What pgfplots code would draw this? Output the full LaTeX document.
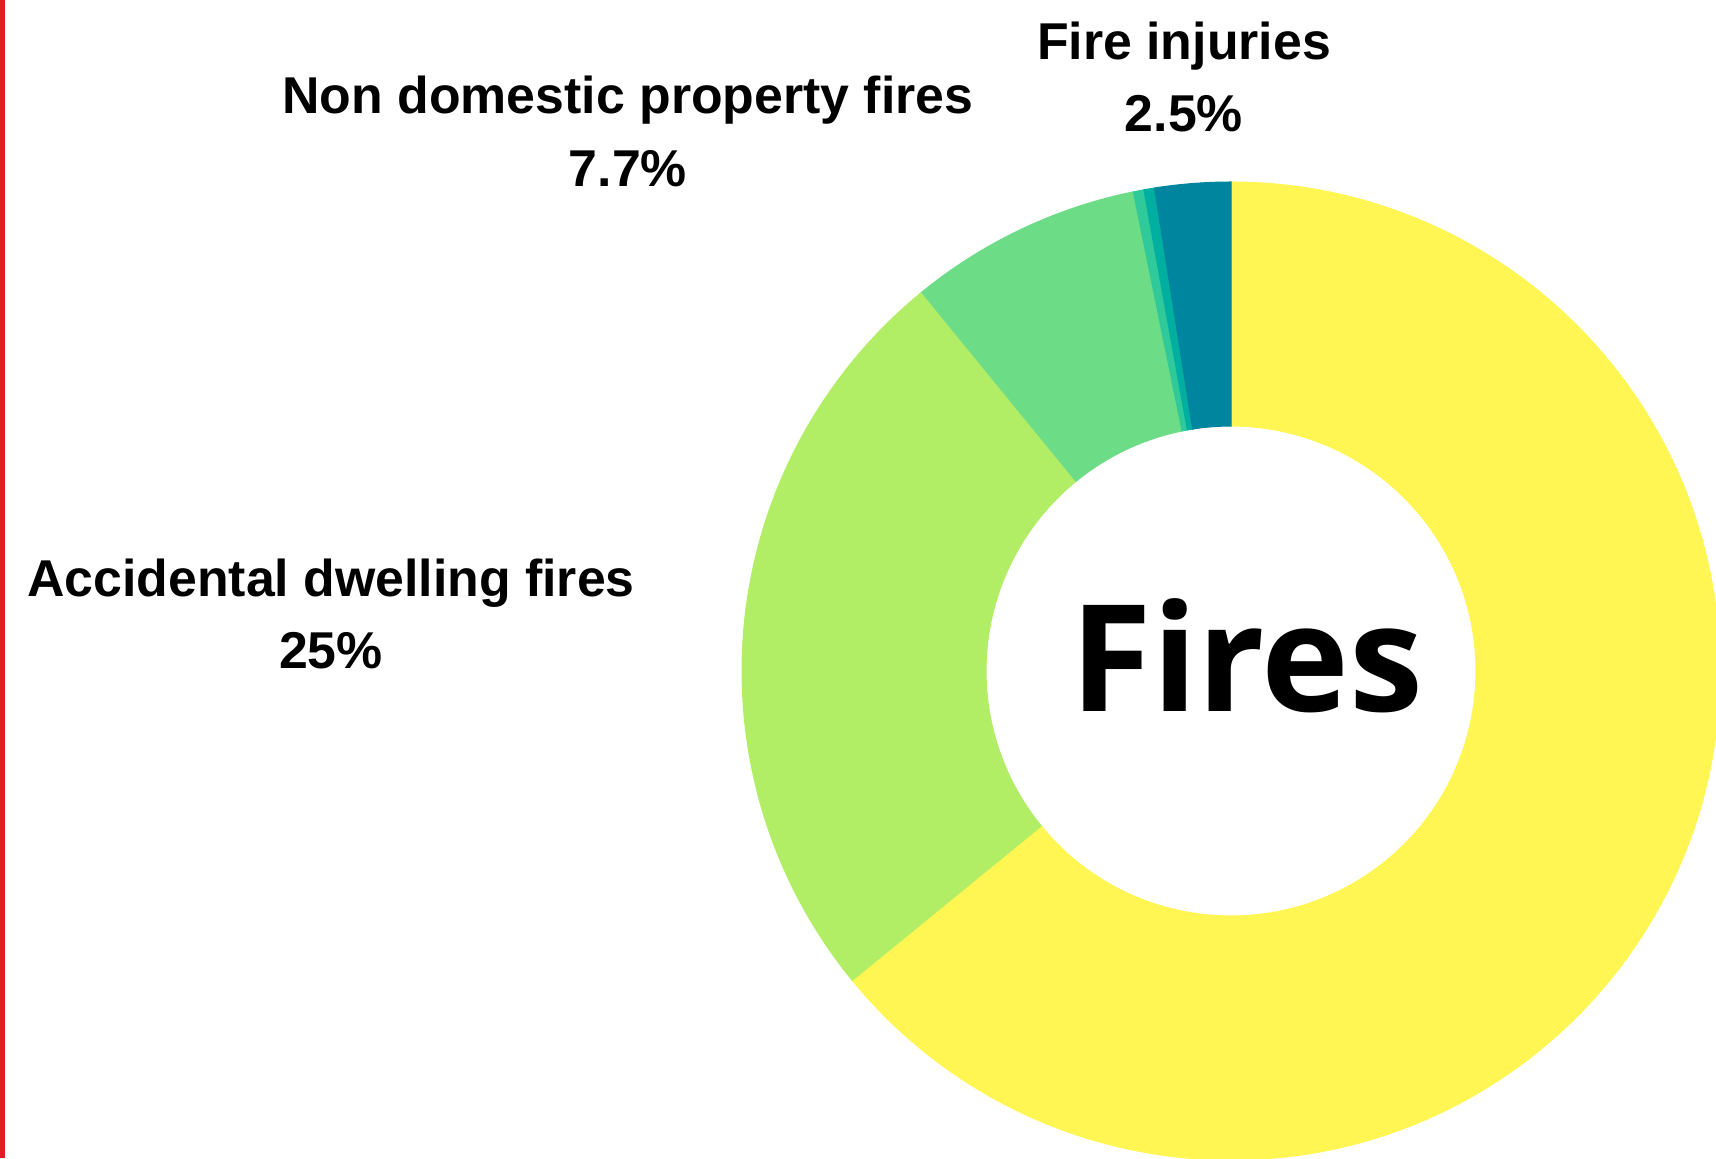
\documentclass[border=0pt]{standalone}
\usepackage{fontspec}
\setmainfont{Liberation Sans}
\newfontfamily\opensans{Open Sans}
\usepackage{pgfplots}
\usepackage{pgfplotstable}
\pgfplotsset{compat=1.18}

\definecolor{cyel}{HTML}{FFF653}
\definecolor{clgr}{HTML}{B2ED66}
\definecolor{cgrn}{HTML}{6DDC86}
\definecolor{ctg}{HTML}{2FC99A}
\definecolor{ctl}{HTML}{00AFA0}
\definecolor{cdk}{HTML}{00859E}
\definecolor{cred}{HTML}{E31C24}

% shares in percent, clockwise from 12 o'clock
\pgfplotstableread{
share colour
64.1  cyel
25.0  clgr
7.7   cgrn
0.35  ctg
0.35  ctl
2.5   cdk
}\slices

\newcommand{\lbl}{\fontsize{14.74}{17}\selectfont\bfseries}

\begin{document}
\begin{tikzpicture}
\begin{axis}[
    x=0.1mm, y=0.1mm,
    xmin=0, xmax=1716, ymin=0, ymax=1158,
    hide axis, clip=true,
]
\coordinate (sw) at (rel axis cs:0,0);
\coordinate (ne) at (rel axis cs:1,1);
\pgfplotsextra{
  \coordinate (O) at (axis cs:1231,487);
  \def\angA{90}
  \pgfplotsforeachungrouped \i in {0,...,5}{
    \pgfplotstablegetelem{\i}{share}\of\slices \let\sv\pgfplotsretval
    \pgfplotstablegetelem{\i}{colour}\of\slices \let\scol\pgfplotsretval
    \pgfmathsetmacro\angB{\angA-3.6*\sv}
    \fill[fill=\scol, draw=\scol, line width=0.3pt]
      ([shift={(\angA:48.9mm)}]O) arc[start angle=\angA, end angle=\angB, radius=48.9mm]
      -- ([shift={(\angB:24.5mm)}]O) arc[start angle=\angB, end angle=\angA, radius=24.5mm] -- cycle;
    \let\angA\angB
  }
  \fill[cred] (axis cs:0,0) rectangle (axis cs:5,1158);
}
\node[anchor=base, font=\lbl] at (axis cs:1184,1099) {Fire injuries};
\node[anchor=base, font=\lbl] at (axis cs:1184,1027) {2.5\%};
\node[anchor=base, font=\lbl] at (axis cs:628,1045) {Non domestic property fires};
\node[anchor=base, font=\lbl] at (axis cs:628,972) {7.7\%};
\node[anchor=base, font=\lbl] at (axis cs:331,562) {Accidental dwelling fires};
\node[anchor=base, font=\lbl] at (axis cs:331,490) {25\%};
\node[anchor=base, font=\opensans\fontsize{42.3}{50}\selectfont\bfseries] at (axis cs:1247,447) {Fires};
\end{axis}
\pgfresetboundingbox
\useasboundingbox (sw) rectangle (ne);
\end{tikzpicture}
\end{document}
